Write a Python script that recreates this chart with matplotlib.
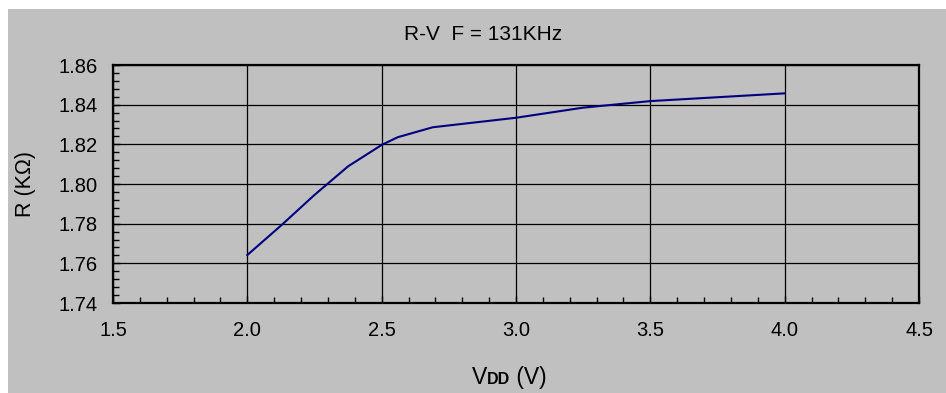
import matplotlib
matplotlib.use("Agg")
import matplotlib.pyplot as plt
from matplotlib.patches import Rectangle
from matplotlib.ticker import MultipleLocator, FormatStrFormatter

# R-V curve, F = 131KHz
vdd = [2.0, 2.125, 2.25, 2.375, 2.5, 2.56, 2.69, 3.0, 3.25, 3.5, 4.0]
res = [1.7642, 1.7790, 1.7945, 1.8089, 1.8197, 1.8236, 1.8286, 1.8334, 1.8385, 1.8418, 1.8457]

plt.rcParams['font.family'] = ['Liberation Sans', 'DejaVu Sans']

fig = plt.figure(figsize=(9.46, 3.93), dpi=100)
fig.patch.set_facecolor("white")
fig.patches.append(Rectangle((8/946, 0), 1, 1 - 9/393, transform=fig.transFigure,
                             facecolor="#c0c0c0", edgecolor="none", zorder=-10))

ax = fig.add_axes([113/946, 90/393, 806/946, 238/393])
ax.set_facecolor("#c0c0c0")
ax.plot(vdd, res, color="#000080", lw=1.5, zorder=3)

ax.set_xlim(1.5, 4.5)
ax.set_ylim(1.74, 1.86)
ax.xaxis.set_major_locator(MultipleLocator(0.5))
ax.xaxis.set_minor_locator(MultipleLocator(0.1))
ax.yaxis.set_major_locator(MultipleLocator(0.02))
ax.yaxis.set_minor_locator(MultipleLocator(0.004))
ax.xaxis.set_major_formatter(FormatStrFormatter("%.1f"))
ax.yaxis.set_major_formatter(FormatStrFormatter("%.2f"))
ax.grid(True, which="major", color="black", lw=0.9)
ax.tick_params(which="both", direction="in", color="black", width=1)
ax.tick_params(which="major", length=5, labelsize=14.5)
ax.tick_params(which="minor", length=4)
ax.tick_params(axis="x", which="major", pad=13)
ax.tick_params(axis="y", which="major", pad=11)
for s in ax.spines.values():
    s.set_linewidth(1.6)
    s.set_color("black")

fig.text(483/946, 1 - 35/393, "R-V  F = 131KHz", ha="center", va="center", fontsize=15)
fig.text(26/946, 1 - 184/393, "R (K\u03a9)", rotation=90, ha="center", va="center", fontsize=15.5)

# x label: V with small bold DD on the baseline
r = fig.canvas.get_renderer()
base_y = 1 - 384/393
t1 = fig.text(472/946, base_y, "V", ha="left", va="baseline", fontsize=16.5)
bb = t1.get_window_extent(r)
t2 = fig.text(bb.x1 / fig.bbox.width, base_y, "DD", ha="left", va="baseline",
              fontsize=11.5, fontweight="bold")
bb2 = t2.get_window_extent(r)
fig.text(bb2.x1 / fig.bbox.width, base_y, " (V)", ha="left", va="baseline", fontsize=16.5)

fig.savefig("out.png", dpi=100, facecolor=fig.get_facecolor())
